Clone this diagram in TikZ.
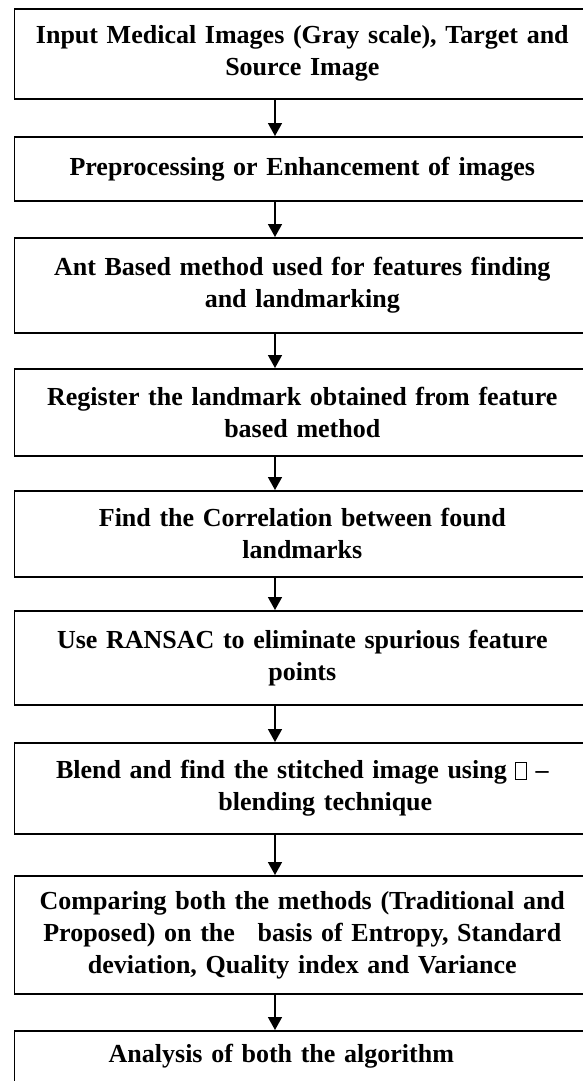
\documentclass[tikz,border=0pt]{standalone}
\usepackage{fontspec}
\setmainfont{Liberation Serif}
\usetikzlibrary{arrows.meta}
% small framed square used as a glyph placeholder
\newcommand{\glyphbox}{{\fboxsep=0pt\fboxrule=0.7pt\fbox{\rule{0pt}{16pt}\hspace{10pt}}}}
\begin{document}
\begin{tikzpicture}[x=1pt,y=-1pt,
  stage/.style={draw, line width=1.6pt, minimum width=576pt, inner sep=0pt,
    text width=576pt, align=center, anchor=north west,
    font=\fontsize{26}{32}\selectfont\bfseries},
  flow/.style={line width=1.6pt, -{Triangle[length=13pt,width=14pt]}}]
\useasboundingbox (0,0) rectangle (583,1081);
\coordinate (ax) at (275,0);

\node[stage, minimum height=90pt] (s1) at (13.5,8)
  {Input Medical Images (Gray scale), Target and\\ Source Image};
\node[stage, minimum height=64pt] (s2) at (13.5,136)
  {Preprocessing or Enhancement of images};
\node[stage, minimum height=95pt] (s3) at (13.5,237)
  {Ant Based method used for features finding\\ and landmarking};
\node[stage, minimum height=87pt] (s4) at (13.5,368)
  {Register the landmark obtained from feature\\ based method};
\node[stage, minimum height=86pt] (s5) at (13.5,490)
  {Find the Correlation between found\\ landmarks};
\node[stage, minimum height=94pt] (s6) at (13.5,610)
  {Use RANSAC to eliminate spurious feature\\ points};
\node[stage, minimum height=91pt] (s7) at (13.5,742)
  {Blend and find the stitched image using \glyphbox\ --\\ \hspace*{46pt}blending technique};
\node[stage, minimum height=118pt] (s8) at (13.5,875)
  {Comparing both the methods (Traditional and\\ Proposed) on the\hspace{14pt} basis of Entropy, Standard\\ deviation, Quality index and Variance};
\node[stage, minimum height=70pt] (s9) at (13.5,1030)
  {\raisebox{24pt}{Analysis of both the algorithm}\rule{42pt}{0pt}};

\foreach \a/\b in {s1/s2,s2/s3,s3/s4,s4/s5,s5/s6,s6/s7,s7/s8,s8/s9}
  \draw[flow] (\a.south -| ax) -- (\b.north -| ax);
\end{tikzpicture}
\end{document}
